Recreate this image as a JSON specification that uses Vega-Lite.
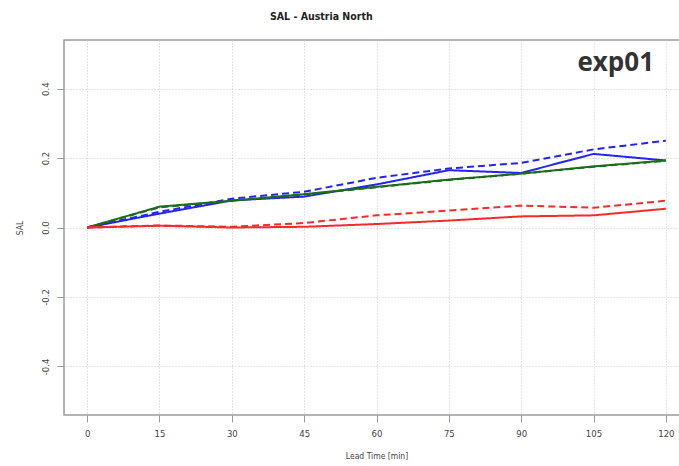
{
  "$schema": "https://vega.github.io/schema/vega-lite/v6.json",
  "autosize": "none",
  "width": 625,
  "height": 375,
  "padding": {"left": 64, "top": 40, "right": 0, "bottom": 51},
  "background": "white",
  "config": {
    "font": "DejaVu Sans Condensed, Liberation Sans, sans-serif",
    "view": {"stroke": "#9a9a9a", "strokeWidth": 1.5},
    "axis": {"grid": true, "gridColor": "#c8c8c8", "gridDash": [1, 2], "gridWidth": 1, "domain": false, "tickColor": "#9a9a9a", "tickSize": 7, "labelColor": "#444", "titleColor": "#444", "labelFont": "DejaVu Sans Condensed, Liberation Sans, sans-serif", "titleFont": "DejaVu Sans Condensed, Liberation Sans, sans-serif", "titleFontWeight": "normal", "labelFontSize": 9.5, "titleFontSize": 8.5}
  },
  "title": {"text": "SAL - Austria North", "font": "DejaVu Sans Condensed, Liberation Sans, sans-serif", "fontSize": 10.5, "fontWeight": "bold", "color": "#222", "anchor": "start", "offset": 18, "dx": 255},
  "datasets": {
    "lines": [
      {"series": "blue_solid", "lead": 0, "sal": 0.0},
      {"series": "blue_solid", "lead": 15, "sal": 0.04},
      {"series": "blue_solid", "lead": 30, "sal": 0.078},
      {"series": "blue_solid", "lead": 45, "sal": 0.089},
      {"series": "blue_solid", "lead": 60, "sal": 0.124},
      {"series": "blue_solid", "lead": 75, "sal": 0.165},
      {"series": "blue_solid", "lead": 90, "sal": 0.157},
      {"series": "blue_solid", "lead": 105, "sal": 0.212},
      {"series": "blue_solid", "lead": 120, "sal": 0.193},
      {"series": "blue_dash", "lead": 0, "sal": 0.0},
      {"series": "blue_dash", "lead": 15, "sal": 0.045},
      {"series": "blue_dash", "lead": 30, "sal": 0.083},
      {"series": "blue_dash", "lead": 45, "sal": 0.103},
      {"series": "blue_dash", "lead": 60, "sal": 0.143},
      {"series": "blue_dash", "lead": 75, "sal": 0.17},
      {"series": "blue_dash", "lead": 90, "sal": 0.186},
      {"series": "blue_dash", "lead": 105, "sal": 0.225},
      {"series": "blue_dash", "lead": 120, "sal": 0.25},
      {"series": "green_dash", "lead": 0, "sal": 0.0},
      {"series": "green_dash", "lead": 15, "sal": 0.058},
      {"series": "green_dash", "lead": 30, "sal": 0.077},
      {"series": "green_dash", "lead": 45, "sal": 0.095},
      {"series": "green_dash", "lead": 60, "sal": 0.116},
      {"series": "green_dash", "lead": 75, "sal": 0.137},
      {"series": "green_dash", "lead": 90, "sal": 0.155},
      {"series": "green_dash", "lead": 105, "sal": 0.175},
      {"series": "green_dash", "lead": 120, "sal": 0.192},
      {"series": "green_solid", "lead": 0, "sal": 0.0},
      {"series": "green_solid", "lead": 15, "sal": 0.06},
      {"series": "green_solid", "lead": 30, "sal": 0.077},
      {"series": "green_solid", "lead": 45, "sal": 0.096},
      {"series": "green_solid", "lead": 60, "sal": 0.117},
      {"series": "green_solid", "lead": 75, "sal": 0.138},
      {"series": "green_solid", "lead": 90, "sal": 0.155},
      {"series": "green_solid", "lead": 105, "sal": 0.176},
      {"series": "green_solid", "lead": 120, "sal": 0.193},
      {"series": "red_dash", "lead": 0, "sal": 0.0},
      {"series": "red_dash", "lead": 15, "sal": 0.006},
      {"series": "red_dash", "lead": 30, "sal": 0.002},
      {"series": "red_dash", "lead": 45, "sal": 0.013},
      {"series": "red_dash", "lead": 60, "sal": 0.035},
      {"series": "red_dash", "lead": 75, "sal": 0.049},
      {"series": "red_dash", "lead": 90, "sal": 0.063},
      {"series": "red_dash", "lead": 105, "sal": 0.057},
      {"series": "red_dash", "lead": 120, "sal": 0.077},
      {"series": "red_solid", "lead": 0, "sal": 0.0},
      {"series": "red_solid", "lead": 15, "sal": 0.005},
      {"series": "red_solid", "lead": 30, "sal": 0.0},
      {"series": "red_solid", "lead": 45, "sal": 0.002},
      {"series": "red_solid", "lead": 60, "sal": 0.01},
      {"series": "red_solid", "lead": 75, "sal": 0.02},
      {"series": "red_solid", "lead": 90, "sal": 0.032},
      {"series": "red_solid", "lead": 105, "sal": 0.035},
      {"series": "red_solid", "lead": 120, "sal": 0.054}
    ],
    "label": [{"text": "exp01", "lead": 109.6, "sal": 0.475}]
  },
  "layer": [
    {
      "data": {"name": "lines"},
      "mark": {"type": "line", "strokeWidth": 2, "clip": true},
      "encoding": {
        "x": {"field": "lead", "type": "quantitative", "scale": {"domain": [-4.8, 124.8], "nice": false, "zero": false}, "axis": {"values": [0, 15, 30, 45, 60, 75, 90, 105, 120], "title": "Lead Time [min]", "labelPadding": 6, "titlePadding": 14}},
        "y": {"field": "sal", "type": "quantitative", "scale": {"domain": [-0.54, 0.54], "nice": false, "zero": false}, "axis": {"values": [-0.4, -0.2, 0, 0.2, 0.4], "format": ".1f", "labelExpr": "replace(datum.label, '\u2212', '-')", "title": "SAL", "labelAngle": -90, "labelAlign": "center", "labelBaseline": "bottom", "labelPadding": 7, "titlePadding": 16}},
        "detail": {"field": "series"},
        "color": {"field": "series", "type": "nominal", "legend": null, "scale": {"domain": ["blue_solid", "blue_dash", "green_dash", "green_solid", "red_dash", "red_solid"], "range": ["#2424f0", "#2424f0", "#1d6b1d", "#1d6b1d", "#f52a2a", "#f52a2a"]}},
        "strokeDash": {"field": "series", "type": "nominal", "legend": null, "scale": {"domain": ["blue_solid", "blue_dash", "green_dash", "green_solid", "red_dash", "red_solid"], "range": [[1, 0], [7, 4], [7, 4], [1, 0], [7, 4], [1, 0]]}}
      }
    },
    {
      "data": {"name": "label"},
      "mark": {"type": "text", "fontSize": 26, "fontWeight": "bold", "font": "Open Sans", "color": "#333", "align": "center", "baseline": "middle"},
      "encoding": {
        "x": {"field": "lead", "type": "quantitative"},
        "y": {"field": "sal", "type": "quantitative"},
        "text": {"field": "text"}
      }
    }
  ]
}
